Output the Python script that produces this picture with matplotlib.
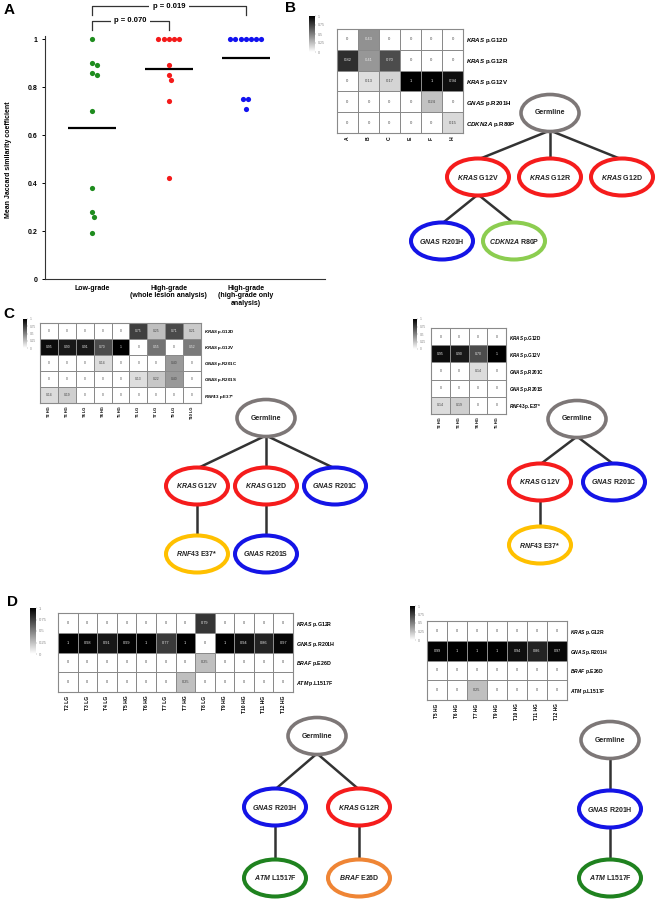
import matplotlib
matplotlib.use("Agg")
import matplotlib.pyplot as plt
import numpy as np
from matplotlib.patches import Ellipse

plt.rcParams['font.family'] = ['Liberation Sans', 'DejaVu Sans']
plt.rcParams['font.weight'] = 'bold'
plt.rcParams['mathtext.fontset'] = 'custom'
plt.rcParams['mathtext.rm'] = 'Liberation Sans:bold'
plt.rcParams['mathtext.it'] = 'Liberation Sans:italic:bold'
plt.rcParams['mathtext.bf'] = 'Liberation Sans:bold'

W, H = 658, 900

# ---------------- panel A data ----------------
groups = ["Low-grade", "High-grade\n(whole lesion analysis)",
          "High-grade\n(high-grade only\nanalysis)"]
low_grade = [1.0, 0.90, 0.89, 0.86, 0.85, 0.70, 0.38, 0.28, 0.26, 0.19]
hg_whole = [1.0, 1.0, 1.0, 1.0, 1.0, 0.89, 0.85, 0.83, 0.74, 0.42]
hg_only = [1.0, 1.0, 1.0, 1.0, 1.0, 1.0, 1.0, 0.75, 0.75, 0.71]
group_colors = ["#1e8c1e", "#f41a1a", "#1212f0"]
pvals = [("p = 0.070", 0, 1), ("p = 0.019", 0, 2)]

# ---------------- heatmap data ----------------
b_cols = ["A", "B", "C", "E", "F", "H"]
b_rows = [("KRAS", "p.G12D"), ("KRAS", "p.G12R"), ("KRAS", "p.G12V"),
          ("GNAS", "p.R201H"), ("CDKN2A", "p.R80P")]
b_vals = [[0, 0.43, 0, 0, 0, 0],
          [0.82, 0.41, 0.70, 0, 0, 0],
          [0, 0.13, 0.17, 1, 1, 0.94],
          [0, 0, 0, 0, 0.24, 0],
          [0, 0, 0, 0, 0, 0.15]]

c_rows = [("KRAS", "p.G12D"), ("KRAS", "p.G12V"), ("GNAS", "p.R201C"),
          ("GNAS", "p.R201S"), ("RNF43", "p.E37*")]
c1_cols = ["T2 HG", "T3 HG", "T4 LG", "T4 HG", "T5 HG", "T6 LG", "T7 LG", "T9 LG", "T10 LG"]
c1_vals = [[0, 0, 0, 0, 0, 0.75, 0.25, 0.71, 0.21],
           [0.95, 0.90, 0.91, 0.70, 1, 0, 0.55, 0, 0.52],
           [0, 0, 0, 0.14, 0, 0, 0, 0.40, 0],
           [0, 0, 0, 0, 0, 0.13, 0.22, 0.40, 0],
           [0.14, 0.19, 0, 0, 0, 0, 0, 0, 0]]
c2_cols = ["T2 HG", "T3 HG", "T4 HG", "T5 HG"]
c2_vals = [[0, 0, 0, 0],
           [0.95, 0.90, 0.70, 1],
           [0, 0, 0.14, 0],
           [0, 0, 0, 0],
           [0.14, 0.19, 0, 0]]

d_rows = [("KRAS", "p.G12R"), ("GNAS", "p.R201H"), ("BRAF", "p.E26D"), ("ATM", "p.L1517F")]
d1_cols = ["T2 LG", "T3 LG", "T4 LG", "T5 HG", "T6 HG", "T7 LG", "T7 HG", "T8 LG",
           "T9 HG", "T10 HG", "T11 HG", "T12 HG"]
d1_vals = [[0, 0, 0, 0, 0, 0, 0, 0.79, 0, 0, 0, 0],
           [1, 0.98, 0.91, 0.99, 1, 0.77, 1, 0, 1, 0.94, 0.86, 0.97],
           [0, 0, 0, 0, 0, 0, 0, 0.25, 0, 0, 0, 0],
           [0, 0, 0, 0, 0, 0, 0.25, 0, 0, 0, 0, 0]]
d2_cols = ["T5 HG", "T6 HG", "T7 HG", "T9 HG", "T10 HG", "T11 HG", "T12 HG"]
d2_vals = [[0, 0, 0, 0, 0, 0, 0],
           [0.99, 1, 1, 1, 0.94, 0.86, 0.97],
           [0, 0, 0, 0, 0, 0, 0],
           [0, 0, 0.25, 0, 0, 0, 0]]

# ---------------- tree data ----------------
RED, BLUE, LGREEN = "#f51c1c", "#1414e6", "#8ccd50"
YELLOW, DGREEN, ORANGE, GERM = "#ffc000", "#1f821f", "#ef8535", "#7d7777"

tree_b_labels = [(None, "Germline"), ("KRAS", "G12V"), ("KRAS", "G12R"), ("KRAS", "G12D"),
                 ("GNAS", "R201H"), ("CDKN2A", "R80P")]
tree_b_parents = [-1, 0, 0, 0, 1, 1]
tree_b_colors = [GERM, RED, RED, RED, BLUE, LGREEN]

tree_c1_labels = [(None, "Germline"), ("KRAS", "G12V"), ("KRAS", "G12D"), ("GNAS", "R201C"),
                  ("RNF43", "E37*"), ("GNAS", "R201S")]
tree_c1_parents = [-1, 0, 0, 0, 1, 2]
tree_c1_colors = [GERM, RED, RED, BLUE, YELLOW, BLUE]

tree_c2_labels = [(None, "Germline"), ("KRAS", "G12V"), ("GNAS", "R201C"), ("RNF43", "E37*")]
tree_c2_parents = [-1, 0, 0, 1]
tree_c2_colors = [GERM, RED, BLUE, YELLOW]

tree_d1_labels = [(None, "Germline"), ("GNAS", "R201H"), ("KRAS", "G12R"),
                  ("ATM", "L1517F"), ("BRAF", "E26D")]
tree_d1_parents = [-1, 0, 0, 1, 2]
tree_d1_colors = [GERM, BLUE, RED, DGREEN, ORANGE]

tree_d2_labels = [(None, "Germline"), ("GNAS", "R201H"), ("ATM", "L1517F")]
tree_d2_parents = [-1, 0, 1]
tree_d2_colors = [GERM, BLUE, DGREEN]


fig = plt.figure(figsize=(W / 100, H / 100), dpi=100)


def px_rect(x0, y0, x1, y1):
    return [x0 / W, 1 - y1 / H, (x1 - x0) / W, (y1 - y0) / H]


def swarm(vals, d_px=5.2, xs=77.0, ys=240.0):
    # simple beeswarm: ties spread evenly, near values pushed to the right
    vals = np.asarray(vals, dtype=float)
    offs = np.zeros(len(vals))
    placed = []
    for u in sorted(set(vals), reverse=True):
        idx = np.where(vals == u)[0]
        n = len(idx)
        if n > 1:
            for k, j in enumerate(idx):
                offs[j] = (k - (n - 1) / 2) * d_px
                placed.append((offs[j], u * ys))
        else:
            o = 0.0
            while any(np.hypot(o - px, u * ys - py) < d_px for px, py in placed):
                o += 0.5
            offs[idx[0]] = o
            placed.append((o, u * ys))
    return offs / xs


def gene_label(gene, change):
    if gene is None:
        return change
    return r"$\it{" + gene + "}$ " + change


# ---------------- panel A ----------------
axA = fig.add_axes(px_rect(45, 36, 325, 279))
for i, (vals, col) in enumerate(zip([low_grade, hg_whole, hg_only], group_colors)):
    axA.scatter(i + swarm(vals), vals, s=14, color=col, linewidths=0, zorder=3, clip_on=False)
    axA.hlines(np.mean(vals), i - 0.31, i + 0.31, color="black", lw=1.6, zorder=2)

axA.set_xlim(-0.61, 3.03)
axA.set_ylim(0, 1.0125)
axA.set_yticks([0, 0.2, 0.4, 0.6, 0.8, 1.0])
axA.set_yticklabels(["0", "0.2", "0.4", "0.6", "0.8", "1"])
axA.set_xticks([0, 1, 2])
axA.set_xticklabels(groups, linespacing=1.15)
axA.tick_params(axis="y", labelsize=5, length=2.5, width=0.7, pad=3)
axA.tick_params(axis="x", labelsize=5, length=0, pad=4)
for lab in axA.get_xticklabels() + axA.get_yticklabels():
    lab.set_fontweight("bold")
for s in ["top", "right"]:
    axA.spines[s].set_visible(False)
for s in ["left", "bottom"]:
    axA.spines[s].set_linewidth(0.8)
    axA.spines[s].set_color("#333333")
axA.set_ylabel("Mean Jaccard similarity coefficient", fontsize=5, fontweight="bold")
axA.yaxis.set_label_coords(-0.118, 0.49)

# significance brackets
for k, (txt, g0, g1) in enumerate(pvals):
    top = 1.075 + 0.0625 * k
    leg = top - 0.0375
    axA.plot([g0, g0, g1, g1], [leg, top, top, leg], color="#333333", lw=0.9, clip_on=False)
    axA.text((g0 + g1) / 2, top, txt, ha="center", va="center", fontsize=5.5,
             fontweight="bold", bbox=dict(fc="white", ec="none", pad=2.5), clip_on=False)


# ---------------- heatmaps ----------------
def heatmap(rect, cb_rect, vals, cols, rows, fs_cell, fs_row, fs_col, cb_fs=2.6):
    ax = fig.add_axes(px_rect(*rect))
    vals = np.array(vals, dtype=float)
    nr, nc = vals.shape
    mesh = ax.pcolormesh(vals, cmap="gray_r", vmin=0, vmax=1,
                         edgecolors="#8a8a8a", linewidth=0.6)
    ax.set_xlim(0, nc)
    ax.set_ylim(nr, 0)
    for r in range(nr):
        for c in range(nc):
            v = vals[r, c]
            txt = "0" if v == 0 else ("1" if v == 1 else f"{v:.2f}")
            ax.text(c + 0.5, r + 0.5, txt, ha="center", va="center", fontsize=fs_cell,
                    fontweight="normal", color="#e8e8e8" if v > 0.4 else "#444444")
    ax.set_xticks(np.arange(nc) + 0.5)
    ax.set_xticklabels(cols, rotation=90, fontsize=fs_col, fontweight="bold")
    ax.set_yticks(np.arange(nr) + 0.5)
    ax.set_yticklabels([gene_label(g, ch) for g, ch in rows], fontsize=fs_row,
                       fontweight="bold")
    ax.yaxis.tick_right()
    ax.tick_params(length=0, pad=2.5)
    for s in ax.spines.values():
        s.set_color("#8a8a8a")
        s.set_linewidth(0.8)

    cax = fig.add_axes(px_rect(*cb_rect))
    cb = fig.colorbar(mesh, cax=cax, ticks=[0, 0.25, 0.5, 0.75, 1])
    cb.outline.set_visible(False)
    cb.ax.set_yticklabels(["0", "0.25", "0.5", "0.75", "1"], fontsize=cb_fs,
                          fontweight="normal", color="#555555")
    cb.ax.tick_params(length=1, width=0.3, pad=0.8, colors="#888888")
    return ax


heatmap((337, 29, 463, 133), (309, 16, 315, 52), b_vals, b_cols, b_rows, 3.0, 4.4, 3.6)
heatmap((40, 323, 201, 403), (23, 319, 27, 348), c1_vals, c1_cols, c_rows, 2.4, 3.2, 2.9, 2.3)
heatmap((431, 328, 506, 414), (413, 319, 417, 349), c2_vals, c2_cols, c_rows, 2.5, 3.3, 2.9, 2.3)
heatmap((58, 613, 293, 692), (30, 608, 36, 654), d1_vals, d1_cols, d_rows, 2.8, 3.8, 3.6, 3.0)
heatmap((427, 621, 567, 700), (410, 606, 415, 640), d2_vals, d2_cols, d_rows, 2.7, 3.6, 3.4, 2.6)


# ---------------- trees ----------------
axT = fig.add_axes([0, 0, 1, 1], zorder=5)
axT.set_xlim(0, W)
axT.set_ylim(H, 0)
axT.set_facecolor("none")
axT.axis("off")


def layout(parents, root, dx, dy):
    pos = [None] * len(parents)
    pos[0] = root
    for i in range(len(parents)):
        kids = [j for j, p in enumerate(parents) if p == i]
        for k, j in enumerate(kids):
            pos[j] = (pos[i][0] + (k - (len(kids) - 1) / 2) * dx, pos[i][1] + dy)
    return pos


def draw_tree(labels, parents, colors, root, dx, dy, w=62, h=37, gw=58):
    pos = layout(parents, root, dx, dy)
    for j, p in enumerate(parents):
        if p < 0:
            continue
        (x0, y0), (x1, y1) = pos[p], pos[j]
        axT.plot([x0, x1], [y0 + h / 2 - 1, y1 - h / 2 + 1], color="#333333",
                 lw=1.8, solid_capstyle="butt", zorder=1)
    for (gene, change), col, (x, y) in zip(labels, colors, pos):
        ww = gw if gene is None else w
        axT.add_patch(Ellipse((x, y), ww, h, fc="white", ec=col,
                              lw=2.6 if gene is None else 2.9, zorder=2))
        axT.text(x, y, gene_label(gene, change), ha="center", va="center",
                 fontsize=5, fontweight="bold", color="#222222", zorder=3)


draw_tree(tree_b_labels, tree_b_parents, tree_b_colors, (550, 113), 72, 64)
draw_tree(tree_c1_labels, tree_c1_parents, tree_c1_colors, (266, 418), 69, 68)
draw_tree(tree_c2_labels, tree_c2_parents, tree_c2_colors, (577, 419), 74, 63)
draw_tree(tree_d1_labels, tree_d1_parents, tree_d1_colors, (317, 736), 84, 71)
draw_tree(tree_d2_labels, tree_d2_parents, tree_d2_colors, (610, 740), 0, 69)

# panel letters
for letter, x, y in [("A", 9, 10), ("B", 290, 8), ("C", 9, 314), ("D", 12, 602)]:
    fig.text(x / W, 1 - y / H, letter, fontsize=11, fontweight="bold",
             ha="center", va="center")

fig.savefig("out.png", dpi=100)
